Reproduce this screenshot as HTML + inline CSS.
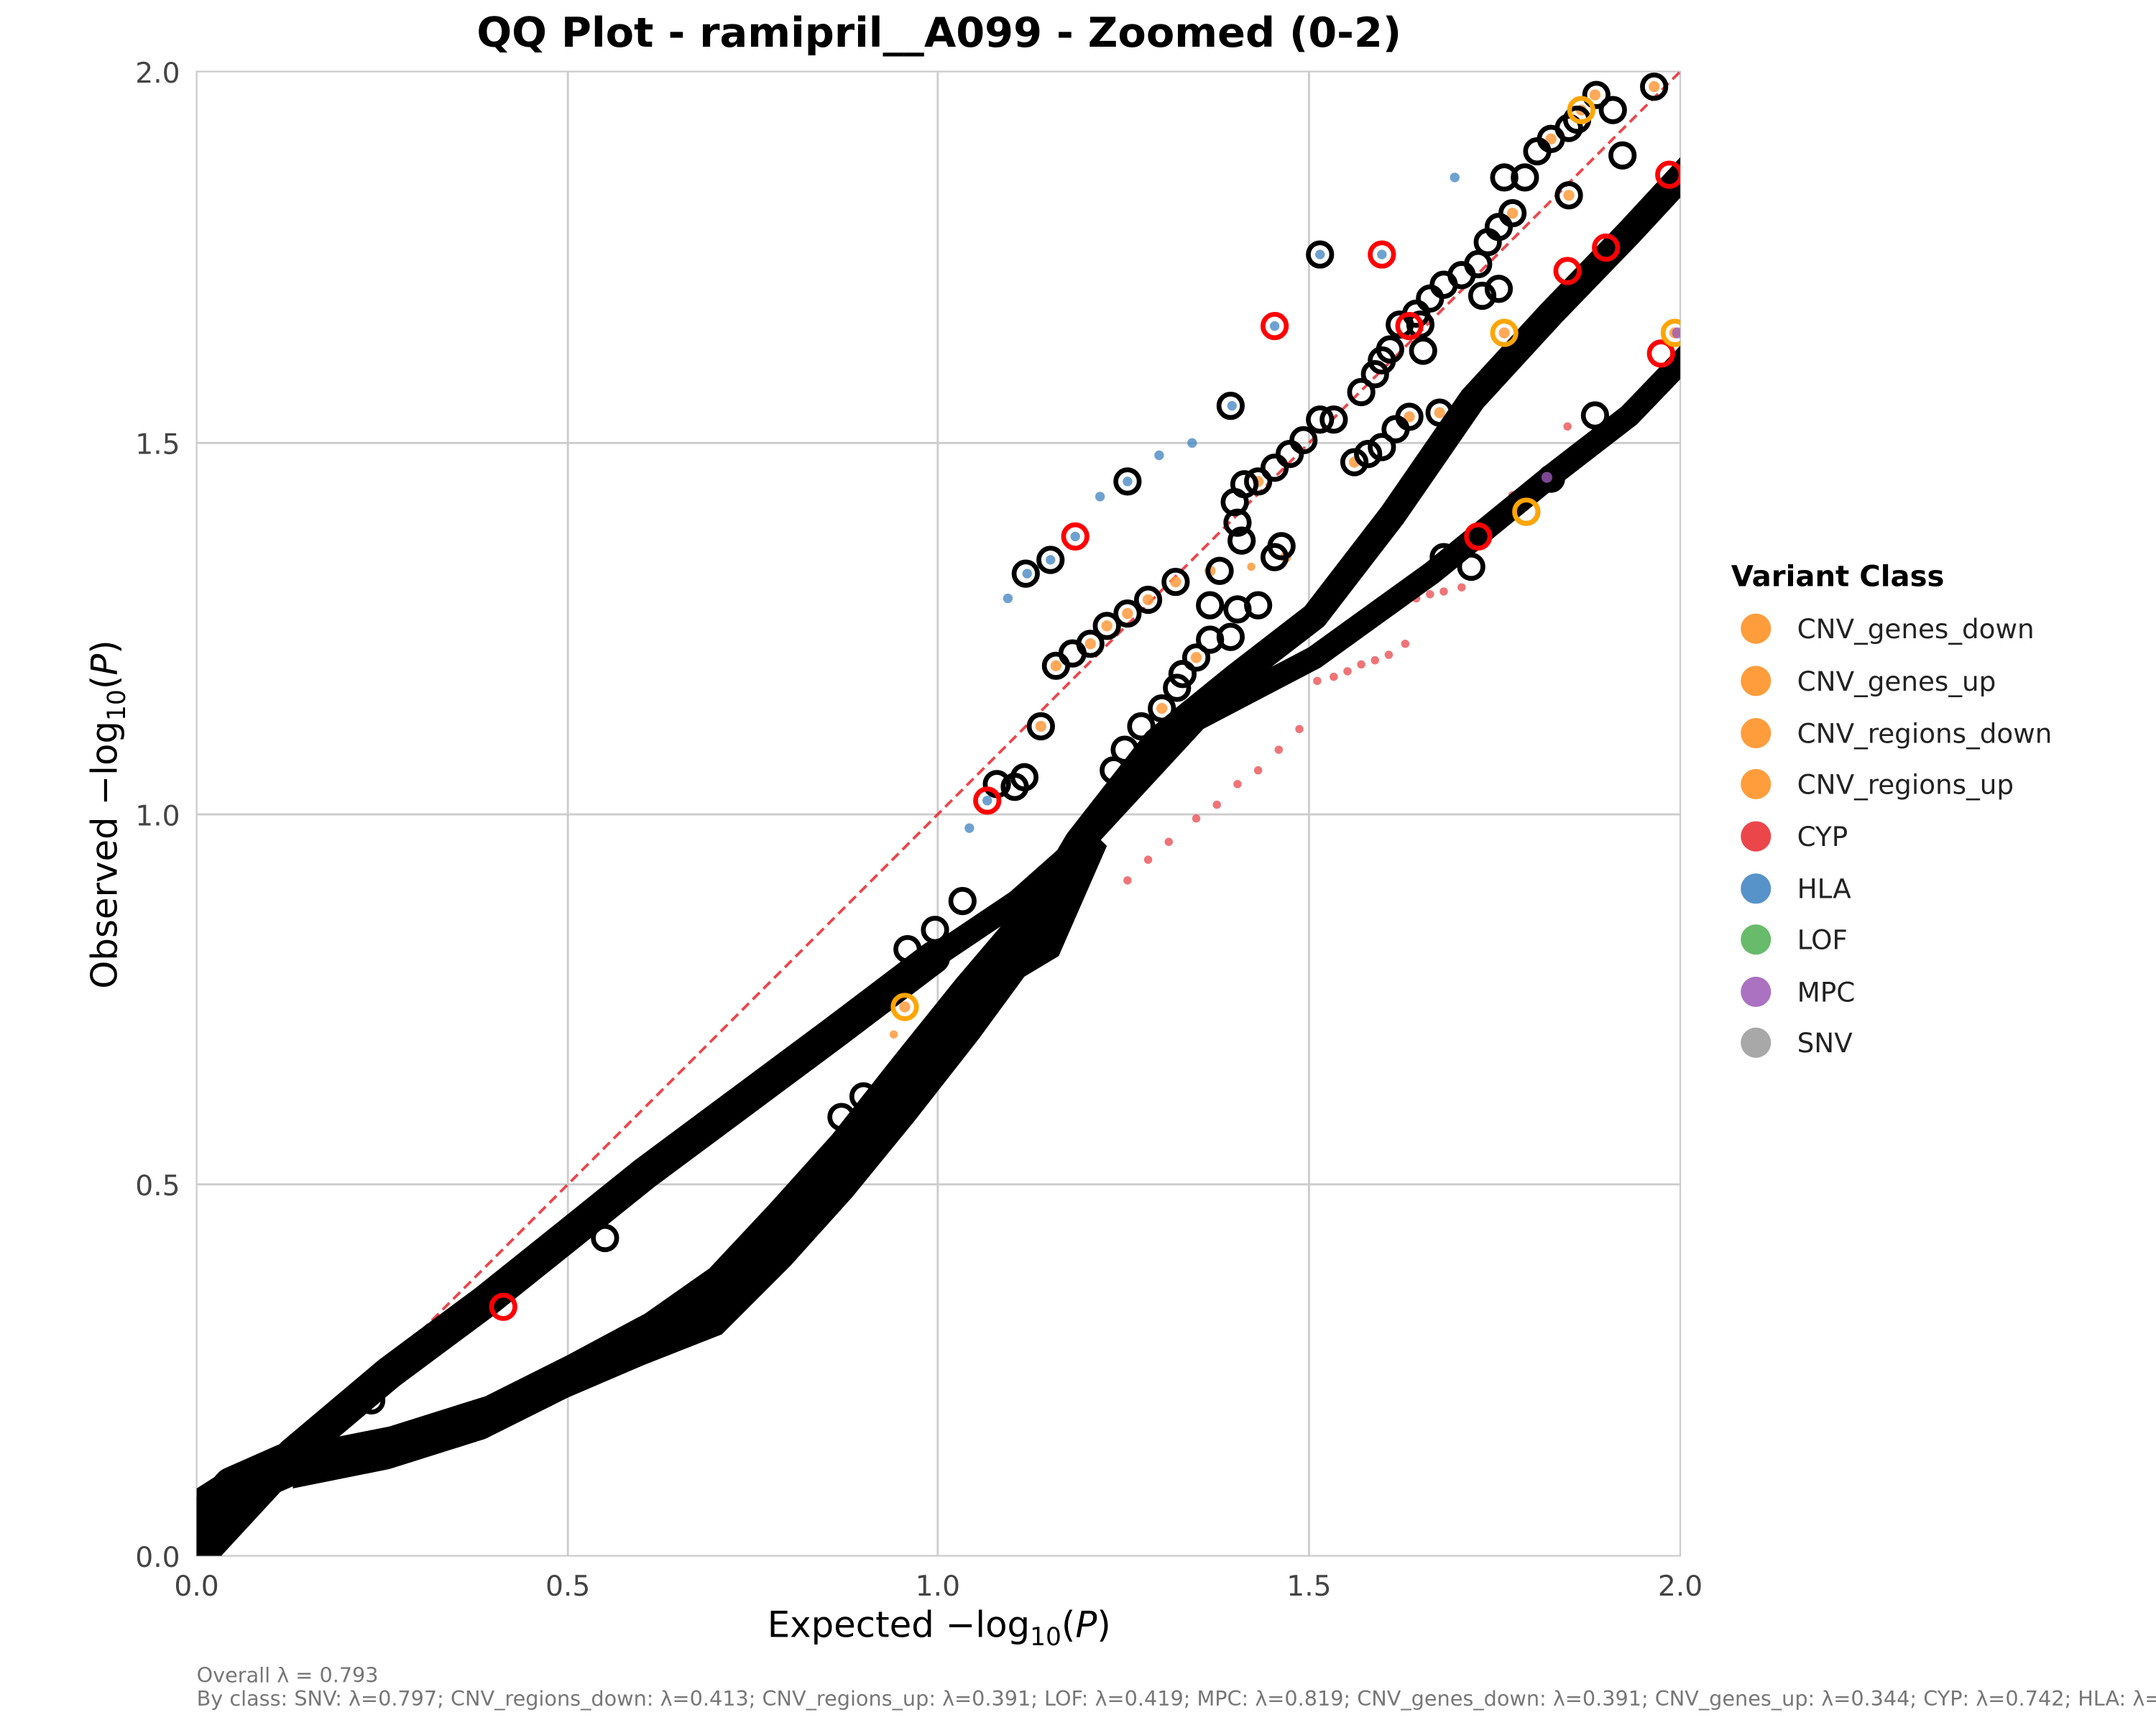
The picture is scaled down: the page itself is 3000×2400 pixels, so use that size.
<!DOCTYPE html>
<html><head><meta charset="utf-8"><style>html,body{margin:0;padding:0;background:#fff}svg{display:block}</style></head>
<body>
<svg width="3000" height="2400" viewBox="0 0 1568 1254" preserveAspectRatio="none" xmlns="http://www.w3.org/2000/svg" font-family="'DejaVu Sans','Liberation Sans',sans-serif">
<rect width="1568" height="1254" fill="#fff"/>
<g stroke="#cccccc" stroke-width="1.5">
<line x1="413" y1="52" x2="413" y2="1131"/><line x1="682" y1="52" x2="682" y2="1131"/><line x1="952" y1="52" x2="952" y2="1131"/>
<line x1="143" y1="322" x2="1222" y2="322"/><line x1="143" y1="592" x2="1222" y2="592"/><line x1="143" y1="861" x2="1222" y2="861"/>
</g>
<rect x="143" y="52" width="1079" height="1079" fill="none" stroke="#cccccc" stroke-width="1.2"/>
<clipPath id="c"><rect x="143" y="52" width="1079" height="1079"/></clipPath>
<g clip-path="url(#c)">
<g fill="#e8464a" fill-opacity="0.75">
<circle cx="820" cy="640" r="3"/><circle cx="835" cy="625" r="3"/><circle cx="850" cy="612" r="3"/><circle cx="870" cy="595" r="3"/><circle cx="885" cy="585" r="3"/><circle cx="900" cy="570" r="3"/><circle cx="915" cy="560" r="3"/><circle cx="930" cy="545" r="3"/><circle cx="945" cy="530" r="3"/><circle cx="958" cy="495" r="3"/><circle cx="970" cy="492" r="3"/><circle cx="980" cy="488" r="3"/><circle cx="990" cy="483" r="3"/><circle cx="1000" cy="480" r="3"/><circle cx="1010" cy="476" r="3"/><circle cx="1022" cy="468" r="3"/><circle cx="1030" cy="435" r="3"/><circle cx="1040" cy="432" r="3"/><circle cx="1050" cy="430" r="3"/><circle cx="1063" cy="427" r="3"/><circle cx="1100" cy="360" r="3"/><circle cx="1140" cy="310" r="3"/><circle cx="1210" cy="272" r="3"/>
</g>
<line x1="143" y1="1131" x2="1222" y2="52" stroke="#e8262a" stroke-opacity="0.85" stroke-width="2" stroke-dasharray="7,4"/>
<g fill="#000"><polygon points="143,1131 143,1082 165,1068 200,1058 215,1075 175,1100 160,1131"/>
<polygon points="213,1051 283,1037 353,1015 413,985 469,955 516,922 560,875 605,825 650,768 695,712 735,665 790,600 805,615 770,695 745,710 712,755 665,815 620,870 575,920 525,970 469,992 413,1016 353,1046 283,1068 213,1082"/></g>
<g fill="none" stroke="#000" stroke-linejoin="round" stroke-linecap="round">
<polyline points="143,1112 170,1082 213,1063" stroke-width="32"/>
<polyline points="147,1131 152,1123 213,1057 283,998 353,946 413,898 469,853 539,801 609,749 679,696" stroke-width="24"/>
<polyline points="750,670 784,612 841,539 899,492 956,448 1013,374 1071,290 1128,228 1185,169 1235,115" stroke-width="20"/>
<polyline points="679,696 740,655 784,616 870,523 956,478 1042,416 1128,346 1185,302 1235,250" stroke-width="17"/>
</g>
<g fill="#ff9a3c" fill-opacity="0.85">
<circle cx="1203" cy="63" r="4"/><circle cx="1150" cy="80" r="4"/><circle cx="1128" cy="101" r="4"/><circle cx="1141" cy="142" r="4"/><circle cx="1100" cy="155" r="4"/><circle cx="1094" cy="242" r="4"/><circle cx="1218" cy="242" r="4"/><circle cx="1047" cy="300" r="4"/><circle cx="915" cy="350" r="4"/><circle cx="935" cy="405" r="4"/><circle cx="880" cy="415" r="4"/><circle cx="855" cy="423" r="4"/><circle cx="835" cy="436" r="4"/><circle cx="820" cy="446" r="4"/><circle cx="805" cy="455" r="4"/><circle cx="793" cy="468" r="4"/><circle cx="768" cy="484" r="4"/><circle cx="757" cy="528" r="4"/><circle cx="658" cy="732" r="4"/><circle cx="650" cy="752" r="3"/><circle cx="910" cy="412" r="3"/><circle cx="845" cy="515" r="4"/><circle cx="870" cy="478" r="4"/><circle cx="1025" cy="303" r="4"/><circle cx="985" cy="336" r="4"/><circle cx="1160" cy="69" r="4"/>
</g>
<g fill="#4a8ac4" fill-opacity="0.8">
<circle cx="1005" cy="185" r="3.5"/><circle cx="896" cy="295" r="3.5"/><circle cx="843" cy="331" r="3.5"/><circle cx="867" cy="322" r="3.5"/><circle cx="800" cy="361" r="3.5"/><circle cx="705" cy="602" r="3.5"/><circle cx="718" cy="582" r="3.5"/><circle cx="1058" cy="129" r="3.5"/><circle cx="733" cy="435" r="3.5"/><circle cx="927" cy="237" r="3.5"/><circle cx="782" cy="390" r="3.5"/><circle cx="960" cy="185" r="3.5"/><circle cx="747" cy="417" r="3.5"/><circle cx="764" cy="407" r="3.5"/><circle cx="820" cy="350" r="3.5"/>
</g>
<g fill="none" stroke="#000" stroke-width="3.5">
<circle cx="1203" cy="63" r="8.5"/><circle cx="1161" cy="69" r="8.5"/><circle cx="1173" cy="80" r="8.5"/><circle cx="1147" cy="87" r="8.5"/><circle cx="1141" cy="93" r="8.5"/><circle cx="1128" cy="101" r="8.5"/><circle cx="1118" cy="110" r="8.5"/><circle cx="1180" cy="113" r="8.5"/><circle cx="1094" cy="129" r="8.5"/><circle cx="1109" cy="129" r="8.5"/><circle cx="1141" cy="142" r="8.5"/><circle cx="1100" cy="155" r="8.5"/><circle cx="1090" cy="165" r="8.5"/><circle cx="1082" cy="176" r="8.5"/><circle cx="1075" cy="192" r="8.5"/><circle cx="1063" cy="200" r="8.5"/><circle cx="1050" cy="207" r="8.5"/><circle cx="1040" cy="217" r="8.5"/><circle cx="1030" cy="228" r="8.5"/><circle cx="1018" cy="236" r="8.5"/><circle cx="1033" cy="236" r="8.5"/><circle cx="1005" cy="262" r="8.5"/><circle cx="1011" cy="254" r="8.5"/><circle cx="1000" cy="272" r="8.5"/><circle cx="990" cy="285" r="8.5"/><circle cx="1047" cy="300" r="8.5"/><circle cx="1025" cy="303" r="8.5"/><circle cx="1015" cy="312" r="8.5"/><circle cx="1005" cy="325" r="8.5"/><circle cx="995" cy="330" r="8.5"/><circle cx="985" cy="336" r="8.5"/><circle cx="970" cy="305" r="8.5"/><circle cx="960" cy="305" r="8.5"/><circle cx="948" cy="320" r="8.5"/><circle cx="938" cy="330" r="8.5"/><circle cx="927" cy="340" r="8.5"/><circle cx="915" cy="350" r="8.5"/><circle cx="905" cy="352" r="8.5"/><circle cx="898" cy="365" r="8.5"/><circle cx="960" cy="185" r="8.5"/><circle cx="895" cy="295" r="8.5"/><circle cx="820" cy="350" r="8.5"/><circle cx="746" cy="417" r="8.5"/><circle cx="764" cy="407" r="8.5"/><circle cx="900" cy="380" r="8.5"/><circle cx="903" cy="393" r="8.5"/><circle cx="932" cy="397" r="8.5"/><circle cx="887" cy="415" r="8.5"/><circle cx="927" cy="405" r="8.5"/><circle cx="880" cy="440" r="8.5"/><circle cx="915" cy="440" r="8.5"/><circle cx="900" cy="443" r="8.5"/><circle cx="855" cy="423" r="8.5"/><circle cx="835" cy="436" r="8.5"/><circle cx="820" cy="446" r="8.5"/><circle cx="805" cy="455" r="8.5"/><circle cx="793" cy="468" r="8.5"/><circle cx="780" cy="475" r="8.5"/><circle cx="768" cy="484" r="8.5"/><circle cx="757" cy="528" r="8.5"/><circle cx="745" cy="565" r="8.5"/><circle cx="738" cy="572" r="8.5"/><circle cx="725" cy="570" r="8.5"/><circle cx="880" cy="465" r="8.5"/><circle cx="895" cy="463" r="8.5"/><circle cx="870" cy="478" r="8.5"/><circle cx="860" cy="490" r="8.5"/><circle cx="856" cy="500" r="8.5"/><circle cx="845" cy="515" r="8.5"/><circle cx="830" cy="528" r="8.5"/><circle cx="818" cy="545" r="8.5"/><circle cx="810" cy="560" r="8.5"/><circle cx="1035" cy="255" r="8.5"/><circle cx="1078" cy="215" r="8.5"/><circle cx="1090" cy="210" r="8.5"/><circle cx="1050" cy="405" r="8.5"/><circle cx="1070" cy="412" r="8.5"/><circle cx="1110" cy="372" r="8.5"/><circle cx="1128" cy="348" r="8.5"/><circle cx="1160" cy="302" r="8.5"/><circle cx="740" cy="700" r="8.5"/><circle cx="720" cy="725" r="8.5"/><circle cx="628" cy="797" r="8.5"/><circle cx="612" cy="812" r="8.5"/><circle cx="660" cy="690" r="8.5"/><circle cx="700" cy="655" r="8.5"/><circle cx="680" cy="676" r="8.5"/><circle cx="440" cy="900" r="8.5"/><circle cx="270" cy="1018" r="8.5"/>
</g>
<g fill="none" stroke="#ff0000" stroke-width="3.5">
<circle cx="1005" cy="185" r="8.5"/><circle cx="927" cy="237" r="8.5"/><circle cx="782" cy="390" r="8.5"/><circle cx="718" cy="582" r="8.5"/><circle cx="1140" cy="197" r="8.5"/><circle cx="1025" cy="237" r="8.5"/><circle cx="1168" cy="180" r="8.5"/><circle cx="1208" cy="257" r="8.5"/><circle cx="1214" cy="127" r="8.5"/><circle cx="366" cy="950" r="8.5"/><circle cx="1075" cy="390" r="8.5"/>
</g>
<g fill="none" stroke="#ffa500" stroke-width="3.5">
<circle cx="1218" cy="242" r="8.5"/><circle cx="1094" cy="242" r="8.5"/><circle cx="1150" cy="80" r="8.5"/><circle cx="658" cy="732" r="8.5"/><circle cx="1110" cy="372" r="8.5"/>
</g>
<circle cx="1220" cy="242" r="4" fill="#9b59b6" fill-opacity="0.8"/>
<circle cx="1125" cy="347" r="4" fill="#9b59b6" fill-opacity="0.8"/>
</g>
<g font-size="20.5" fill="#444">
<text x="143" y="1160" text-anchor="middle">0.0</text><text x="413" y="1160" text-anchor="middle">0.5</text><text x="682" y="1160" text-anchor="middle">1.0</text><text x="952" y="1160" text-anchor="middle">1.5</text><text x="1222" y="1160" text-anchor="middle">2.0</text>
<text x="131" y="1139" text-anchor="end">0.0</text><text x="131" y="869" text-anchor="end">0.5</text><text x="131" y="600" text-anchor="end">1.0</text><text x="131" y="330" text-anchor="end">1.5</text><text x="131" y="60" text-anchor="end">2.0</text>
</g>
<text x="683" y="34" text-anchor="middle" font-size="30" font-weight="bold" fill="#000">QQ Plot - ramipril__A099 - Zoomed (0-2)</text>
<text x="683" y="1190" text-anchor="middle" font-size="26" fill="#000">Expected −log<tspan font-size="18" dy="6">10</tspan><tspan dy="-6">(</tspan><tspan font-style="italic">P</tspan>)</text>
<text transform="translate(85,592) rotate(-90)" text-anchor="middle" font-size="26" fill="#000">Observed −log<tspan font-size="18" dy="6">10</tspan><tspan dy="-6">(</tspan><tspan font-style="italic">P</tspan>)</text>
<text x="1259" y="426" font-size="21" font-weight="bold" fill="#000">Variant Class</text>
<g font-size="19.5" fill="#222">
<circle cx="1277" cy="457" r="11" fill="#ff8c1a" fill-opacity="0.85"/><text x="1307" y="464">CNV_genes_down</text>
<circle cx="1277" cy="495" r="11" fill="#ff8c1a" fill-opacity="0.85"/><text x="1307" y="502">CNV_genes_up</text>
<circle cx="1277" cy="533" r="11" fill="#ff8c1a" fill-opacity="0.85"/><text x="1307" y="540">CNV_regions_down</text>
<circle cx="1277" cy="570" r="11" fill="#ff8c1a" fill-opacity="0.85"/><text x="1307" y="577">CNV_regions_up</text>
<circle cx="1277" cy="608" r="11" fill="#e8262a" fill-opacity="0.85"/><text x="1307" y="615">CYP</text>
<circle cx="1277" cy="646" r="11" fill="#3a7fbf" fill-opacity="0.85"/><text x="1307" y="653">HLA</text>
<circle cx="1277" cy="683" r="11" fill="#4caf50" fill-opacity="0.85"/><text x="1307" y="690">LOF</text>
<circle cx="1277" cy="721" r="11" fill="#9b59b6" fill-opacity="0.85"/><text x="1307" y="728">MPC</text>
<circle cx="1277" cy="758" r="11" fill="#999999" fill-opacity="0.85"/><text x="1307" y="765">SNV</text>
</g>
<g font-size="15" fill="#777">
<text x="143" y="1223">Overall λ = 0.793</text>
<text x="143" y="1240">By class: SNV: λ=0.797; CNV_regions_down: λ=0.413; CNV_regions_up: λ=0.391; LOF: λ=0.419; MPC: λ=0.819; CNV_genes_down: λ=0.391; CNV_genes_up: λ=0.344; CYP: λ=0.742; HLA: λ=0.8</text>
</g>
</svg>
</body></html>
